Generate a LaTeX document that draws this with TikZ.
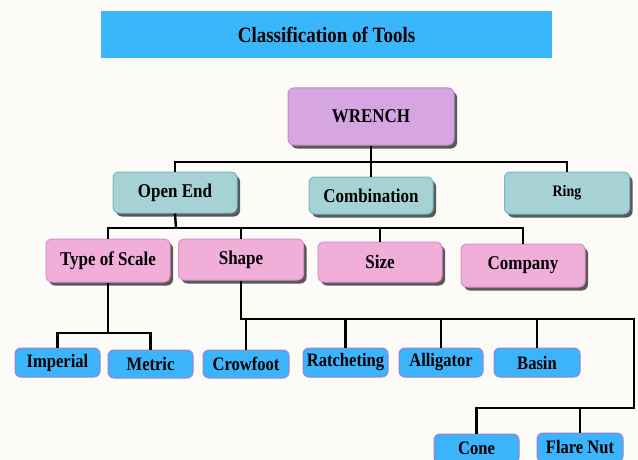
\documentclass[tikz,border=0pt]{standalone}
\usepackage{fontspec}
\setmainfont{Liberation Serif}[FakeStretch=0.87]
\usetikzlibrary{shadows}

\definecolor{pagebg}{HTML}{FCFBF7}
\definecolor{titleblue}{HTML}{3AB6FB}
\definecolor{wrenchfill}{HTML}{D7A5E1}
\definecolor{wrenchline}{HTML}{C68AD2}
\definecolor{tealfill}{HTML}{A7D2D5}
\definecolor{tealline}{HTML}{72B9C4}
\definecolor{pinkfill}{HTML}{F0AED9}
\definecolor{pinkline}{HTML}{D98FCB}
\definecolor{leaffill}{HTML}{3BB4FB}
\definecolor{leafline}{HTML}{A17ED6}

\tikzset{
  tool/.style={rounded corners=6pt, inner sep=0pt, line width=1pt,
    font=\fontsize{19.5}{22}\selectfont\bfseries},
  shadowed/.style={drop shadow={shadow xshift=3pt, shadow yshift=-3.5pt,
    fill=black!65, opacity=1}},
  rootbox/.style={tool, shadowed, draw=wrenchline, fill=wrenchfill,
    minimum width=166pt, minimum height=57pt},
  groupbox/.style={tool, shadowed, draw=tealline, fill=tealfill,
    minimum width=124pt, minimum height=41pt},
  kindbox/.style={tool, shadowed, draw=pinkline, fill=pinkfill,
    minimum width=124pt, minimum height=42pt},
  leafbox/.style={tool, draw=leafline, fill=leaffill,
    minimum width=85pt, minimum height=29pt,
    font=\fontsize{19}{21}\selectfont\bfseries},
  branch/.style={line width=2.4pt, black}
}

\begin{document}
\begin{tikzpicture}[x=1pt, y=-1pt]
  \useasboundingbox[fill=pagebg] (0,0) rectangle (638,460);

  % banner
  \node[fill=titleblue, minimum width=451pt, minimum height=47pt, inner sep=0pt,
    font=\fontsize{21.8}{24}\selectfont\bfseries] (title) at (326.5,34.5) {Classification of Tools};

  % root and first level
  \node[rootbox] (wrench) at (371,116.5) {WRENCH};
  \node[groupbox] (openend) at (175,192.5) {Open End};
  \node[groupbox, minimum height=37pt] (combination) at (371,195.5) {Combination};
  \node[groupbox, minimum width=125pt, minimum height=42pt,
    font=\fontsize{16}{18}\selectfont\bfseries] (ring) at (567,193) {\raisebox{4pt}{Ring}};

  % second level
  \node[kindbox, minimum height=43pt] (scale) at (108,260.5) {Type of Scale};
  \node[kindbox, minimum width=125pt, minimum height=41pt] (shape) at (241,259.5) {Shape};
  \node[kindbox, minimum height=40pt] (size) at (380,262) {Size};
  \node[kindbox, minimum height=43pt] (company) at (523,265.5) {Company};

  % leaves
  \node[leafbox] (imperial) at (57.5,362.5) {Imperial};
  \node[leafbox, minimum height=28pt] (metric) at (150.5,364) {Metric};
  \node[leafbox, minimum width=86pt, minimum height=28pt] (crowfoot) at (246,364) {Crowfoot};
  \node[leafbox] (ratcheting) at (345.5,362.5) {Ratcheting};
  \node[leafbox, minimum width=84pt] (alligator) at (441,362.5) {Alligator};
  \node[leafbox, minimum width=86pt] (basin) at (537,362.5) {Basin};
  \node[leafbox] (cone) at (476.5,448.5) {Cone};
  \node[leafbox, minimum width=86pt] (flarenut) at (580,447.5) {Flare Nut};

  % buses
  \coordinate (bus1) at (371,162);
  \coordinate (bus2) at (176,228);
  \coordinate (bus3) at (108,333);
  \coordinate (elbow) at (634,319);
  \coordinate (bus4) at (634,408);

  % connectors
  \draw[branch] (wrench.south) -- (combination.north);
  \draw[branch] (openend.north) |- (bus1) -| (ring.north);
  \draw[branch] (openend.south) -- (bus2);
  \draw[branch] (scale.north) |- (bus2) -| (company.north);
  \draw[branch] (shape.north) -- (shape.north |- bus2);
  \draw[branch] (size.north) -- (size.north |- bus2);
  \draw[branch] (scale.south) -- (bus3);
  \draw[branch] (imperial.north) |- (bus3) -| (metric.north);
  \draw[branch] (shape.south) |- (elbow) -- (bus4) -| (cone.north);
  \foreach \leaf in {crowfoot, ratcheting, alligator, basin}
    \draw[branch] (\leaf.north) -- (\leaf.north |- elbow);
  \draw[branch] (flarenut.north) -- (flarenut.north |- bus4);
\end{tikzpicture}
\end{document}
